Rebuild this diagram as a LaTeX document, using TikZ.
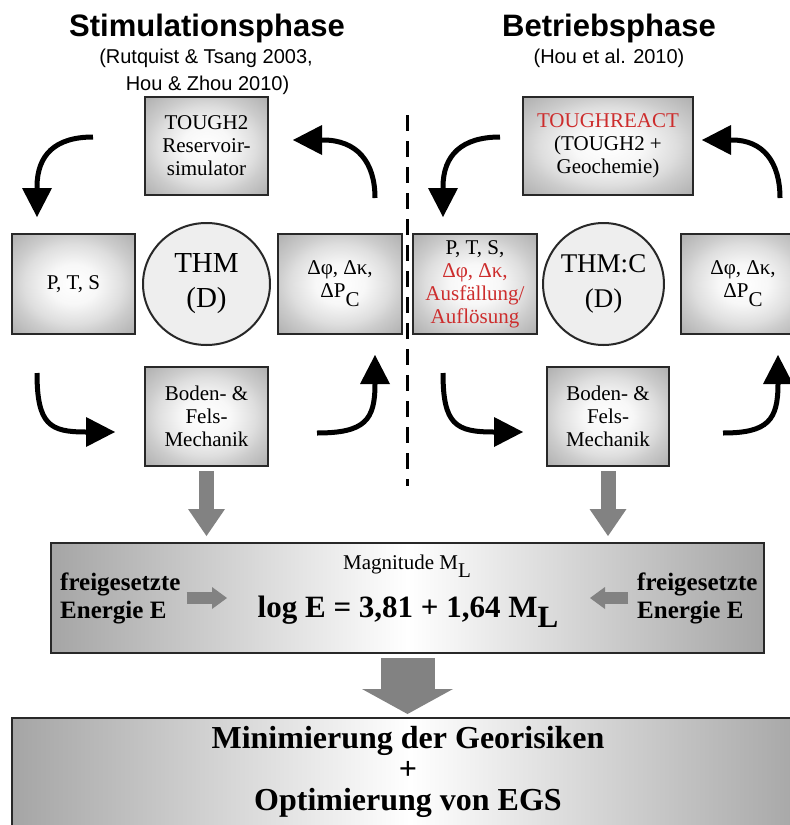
\documentclass[tikz,border=0pt]{standalone}
\usepackage{fontspec}
\setmainfont{Liberation Serif}
\newfontfamily\arialf{Liberation Sans}
\usetikzlibrary{arrows.meta,shapes.geometric}
\definecolor{redtxt}{RGB}{205,45,45}
\definecolor{boxedge}{RGB}{40,40,40}
\definecolor{blockgray}{RGB}{130,130,130}
\definecolor{shadegray}{RGB}{165,165,165}
\definecolor{circfill}{RGB}{238,238,238}
\pgfdeclareradialshading{boxshade}{\pgfpoint{0bp}{0bp}}{rgb(0bp)=(1,1,1); rgb(10bp)=(0.97,0.97,0.97); rgb(20bp)=(0.87,0.87,0.87); rgb(25bp)=(0.80,0.80,0.80); rgb(35bp)=(0.69,0.69,0.69); rgb(50bp)=(0.67,0.67,0.67)}
\newcommand{\lowsub}[1]{\raisebox{-0.42em}{#1}}
\begin{document}
\begin{tikzpicture}[x=1pt,y=-1pt,
  shbox/.style={draw=boxedge,line width=2pt,inner sep=0pt,align=center,shading=boxshade,font=\fontsize{21}{23}\selectfont},
  circ/.style={ellipse,draw=boxedge,line width=2pt,fill=circfill,inner sep=0pt,align=center},
  title/.style={anchor=base,inner sep=0pt,font=\arialf\fontsize{31}{33}\selectfont\bfseries},
  subt/.style={anchor=base,inner sep=0pt,font=\arialf\fontsize{20}{22}\selectfont},
  curv/.style={line width=5pt,black,-{Triangle[length=29pt,width=30pt,line width=0pt]}},
  midarrow/.style={line width=15pt,blockgray,-{Triangle[length=27pt,width=37pt,line width=0pt]},shorten <=4pt,shorten >=6pt},
  bigarrow/.style={line width=54pt,blockgray,-{Triangle[length=25pt,width=91pt,line width=0pt]},shorten <=4pt,shorten >=3pt},
  smallarrow/.style={line width=12pt,blockgray,-{Triangle[length=15pt,width=22pt,line width=0pt]}},
  sep/.style={line width=3pt,black,dash pattern=on 16pt off 10pt},
  magbox/.style={draw=boxedge,line width=2pt,inner sep=0pt,left color=shadegray,right color=shadegray,middle color=white},
  lbl/.style={inner sep=0pt,font=\fontsize{25}{28}\selectfont\bfseries}
]
\useasboundingbox (0,0) rectangle (790,825);
\clip (0,0) rectangle (790,825);
\fill[white] (0,0) rectangle (790,825);

% titles
\node[title] (t1) at (207,36) {Stimulationsphase};
\node[subt] (s1a) at (206,63) {(Rutquist \& Tsang 2003,};
\node[subt] (s1b) at (207.5,90) {Hou \& Zhou 2010)};
\node[title] (t2) at (609,36) {Betriebsphase};
\node[subt] (s2) at (609,63) {(Hou et al. 2010)};

% left cycle
\node[shbox,minimum width=123,minimum height=98] (tough) at (206.5,146) {TOUGH2\\Reservoir-\\simulator};
\node[shbox,minimum width=123,minimum height=100] (pts) at (73.5,284) {P, T, S};
\node[circ,minimum width=127,minimum height=122,font=\fontsize{29}{35}\selectfont] (thm) at (206.5,284) {THM\\(D)};
\node[shbox,minimum width=124,minimum height=100] (dphi) at (340,284) {Δφ, Δκ,\\ΔP\lowsub{C}};
\node[shbox,minimum width=123,minimum height=99] (boden) at (206.5,416.5) {Boden- \&\\Fels-\\Mechanik};

% right cycle
\node[shbox,minimum width=170,minimum height=98] (react) at (608,146) {\textcolor{redtxt}{TOUGHREACT}\\(TOUGH2 +\\Geochemie)};
\node[shbox,minimum width=124,minimum height=100] (ptsr) at (475,284) {P, T, S,\\\textcolor{redtxt}{Δφ, Δκ,}\\\textcolor{redtxt}{Ausfällung/}\\\textcolor{redtxt}{Auflösung}};
\node[circ,minimum width=114,minimum height=122,font=\fontsize{27}{35}\selectfont] (thmc) at (603.5,284) {THM:C\\(D)};
\node[shbox,minimum width=124,minimum height=100] (dphir) at (743,284) {Δφ, Δκ,\\ΔP\lowsub{C}};
\node[shbox,minimum width=122,minimum height=99] (bodenr) at (608,416.5) {Boden- \&\\Fels-\\Mechanik};

% separator
\coordinate (dtop) at (407,115);
\coordinate (dbot) at (407,486);
\draw[sep] (dtop) -- (dbot);

% curved arrows, left
\coordinate (a1s) at (93,137);   \coordinate (a1e) at (37,217);
\coordinate (a2s) at (375,198);  \coordinate (a2e) at (293,140);
\coordinate (a3s) at (37,373);   \coordinate (a3e) at (115,432);
\coordinate (a4s) at (317,433);  \coordinate (a4e) at (375,355);
\draw[curv] (a1s) .. controls (55,137) and (37,155) .. (37,187) -- (a1e);
\draw[curv] (a2s) .. controls (375,162) and (357,140) .. (323,140) -- (a2e);
\draw[curv] (a3s) .. controls (37,425) and (50,432) .. (86,432) -- (a3e);
\draw[curv] (a4s) .. controls (365,433) and (375,420) .. (375,384) -- (a4e);

% curved arrows, right
\coordinate (b1s) at (500,137);  \coordinate (b1e) at (443,217);
\coordinate (b2s) at (780,198);  \coordinate (b2e) at (702,140);
\coordinate (b3s) at (443,373);  \coordinate (b3e) at (523,432);
\coordinate (b4s) at (723,433);  \coordinate (b4e) at (778,355);
\draw[curv] (b1s) .. controls (462,137) and (443,155) .. (443,187) -- (b1e);
\draw[curv] (b2s) .. controls (780,162) and (763,140) .. (732,140) -- (b2e);
\draw[curv] (b3s) .. controls (443,425) and (456,432) .. (494,432) -- (b3e);
\draw[curv] (b4s) .. controls (768,433) and (778,420) .. (778,384) -- (b4e);

% magnitude box
\node[magbox,minimum width=713,minimum height=110] (mag) at (407.5,598) {};
\node[anchor=base,inner sep=0pt,font=\fontsize{21}{23}\selectfont] (magt) at (407,569) {Magnitude M\lowsub{L}};
\node[anchor=base,inner sep=0pt,font=\fontsize{31}{33}\selectfont\bfseries] (eq) at (408,617) {log E = 3,81 + 1,64 M\raisebox{-0.33em}{L}};
\node[lbl,anchor=west,align=left] (fl) at (60,598) {freigesetzte\\Energie E};
\node[lbl,anchor=west,align=left] (fr) at (637,598) {freigesetzte\\Energie E};
\coordinate (fle) at (227,598);
\coordinate (fre) at (590,598);
\draw[smallarrow,shorten <=6pt] (fl.east) -- (fle);
\draw[smallarrow,shorten <=9pt] (fr.west) -- (fre);

% arrows into magnitude box
\draw[midarrow] (boden.south) -- (boden.south |- mag.north);
\draw[midarrow] (bodenr.south) -- (bodenr.south |- mag.north);

% result box
\node[magbox,minimum width=796,minimum height=140] (res) at (410,788) {};
\node[inner sep=0pt,align=center,font=\fontsize{32}{31}\selectfont\bfseries] (restext) at (408,772) {Minimierung der Georisiken\\+\\Optimierung von EGS};
\draw[bigarrow] (mag.south) -- (mag.south |- res.north);
\end{tikzpicture}
\end{document}
